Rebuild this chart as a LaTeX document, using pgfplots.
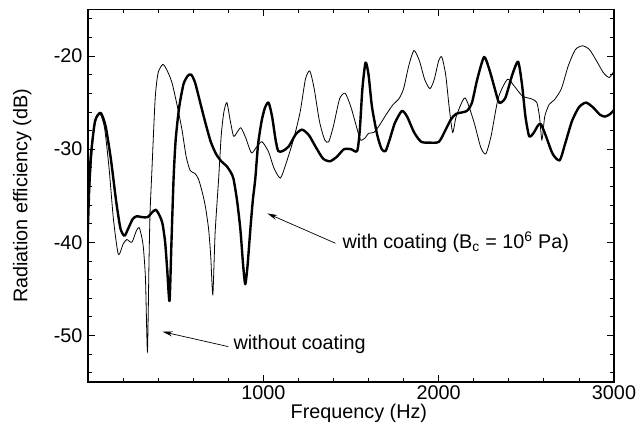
\documentclass[border=0pt]{standalone}
\usepackage{fontspec}
\setmainfont{Liberation Sans}
\usepackage{pgfplots}
\usepackage{pgfplotstable}
\pgfplotsset{compat=1.18}
\usetikzlibrary{arrows.meta}

% Radiation efficiency of the uncoated plate (thin line)
\pgfplotstableread{
f     R
0     -41.0
12    -34.0
30    -28.5
50    -26.6
72    -26.3
95    -27.8
120   -32.0
145   -37.5
173   -41.3
200   -40.2
221   -39.7
250   -40.0
275   -38.8
291   -38.4
305   -39.3
316   -40.6
328   -44.0
339   -51.7
348   -42.0
354   -36.8
364   -32.5
383   -24.6
400   -21.8
427   -20.9
450   -21.5
478   -22.8
505   -25.0
535   -27.8
560   -30.8
583   -32.3
610   -32.6
630   -33.2
650   -34.5
669   -36.1
688   -38.6
700   -41.5
712   -45.6
725   -39.0
745   -33.2
760   -28.5
775   -26.0
792   -25.0
810   -26.8
830   -28.6
850   -28.2
872   -27.7
900   -28.8
932   -30.4
960   -29.8
992   -29.2
1030  -30.3
1060  -32.0
1097  -33.1
1130  -31.5
1173  -28.9
1210  -26.0
1240  -22.5
1265  -21.6
1290  -23.5
1320  -27.0
1350  -29.0
1373  -29.2
1400  -27.5
1435  -24.6
1467  -24.0
1500  -25.5
1530  -27.5
1554  -29.0
1580  -28.8
1600  -28.3
1630  -28.2
1660  -27.5
1700  -26.3
1740  -25.2
1773  -24.6
1800  -23.5
1830  -21.0
1859  -19.4
1890  -20.5
1920  -22.5
1950  -23.5
1975  -22.5
2000  -20.5
2018  -20.1
2040  -22.0
2060  -25.5
2080  -28.2
2100  -26.5
2150  -24.5
2200  -27.0
2240  -29.8
2269  -30.5
2300  -28.5
2340  -24.5
2392  -22.5
2430  -23.2
2478  -24.3
2530  -24.6
2560  -25.0
2575  -26.5
2589  -29.0
2605  -26.5
2630  -25.2
2660  -24.7
2700  -23.5
2740  -21.0
2780  -19.3
2821  -18.9
2860  -19.3
2900  -20.5
2940  -21.8
2973  -22.3
3000  -21.6
}\uncoated

% Radiation efficiency with the coating, B_c = 10^6 Pa (thick line)
\pgfplotstableread{
f     R
0     -36.0
15    -31.0
40    -27.0
72    -26.1
100   -27.5
130   -31.0
160   -35.5
185   -38.5
208   -39.3
230   -38.5
255   -37.5
278   -37.2
310   -37.3
340   -37.3
365   -36.8
387   -36.5
410   -37.2
425   -38.0
440   -40.0
452   -43.0
465   -46.3
476   -40.0
488   -33.2
500   -29.0
520   -25.5
545   -23.0
570   -22.1
589   -22.0
610   -22.8
640   -25.0
670   -27.2
700   -29.2
730   -30.5
760   -31.3
790   -31.8
815   -32.5
830   -33.2
850   -35.5
869   -38.6
885   -42.5
897   -44.5
910   -42.5
926   -38.6
940   -35.5
954   -33.2
970   -29.5
990   -27.0
1010  -25.5
1030  -25.0
1050  -26.5
1070  -29.0
1085  -30.2
1110  -30.2
1145  -29.7
1185  -28.4
1221  -27.9
1260  -28.5
1300  -29.8
1340  -31.0
1380  -31.3
1420  -30.8
1460  -30.0
1500  -30.0
1535  -30.2
1550  -28.0
1565  -23.5
1583  -20.7
1600  -22.0
1620  -25.5
1650  -28.5
1675  -30.0
1697  -30.2
1720  -29.0
1750  -27.2
1790  -25.9
1820  -26.5
1860  -28.2
1900  -29.2
1950  -29.3
2002  -29.2
2040  -27.9
2070  -26.8
2100  -26.2
2160  -25.9
2190  -25.0
2220  -22.5
2259  -20.1
2290  -21.5
2320  -23.5
2345  -25.0
2380  -24.5
2420  -22.0
2453  -20.6
2475  -23.0
2495  -26.5
2516  -28.6
2540  -28.3
2565  -27.5
2583  -27.3
2610  -28.5
2650  -30.5
2690  -31.2
2720  -29.5
2760  -27.0
2800  -25.5
2840  -25.0
2880  -25.5
2920  -26.3
2950  -26.5
2980  -26.2
3000  -25.8
}\coated

\begin{document}
\begin{tikzpicture}[font=\fontsize{19.8}{23}\selectfont]
\path[use as bounding box] (0,0) rectangle (638pt,436pt);
\begin{axis}[
  at={(88pt,54pt)}, anchor=south west,
  scale only axis, width=526pt, height=372.5pt,
  xmin=0, xmax=3000, ymin=-55, ymax=-15,
  xtick={1000,2000,3000}, xticklabels={1000,2000,3000},
  ytick={-50,-40,-30,-20}, yticklabels={-50,-40,-30,-20},
  minor xtick={200,400,...,2800},
  minor ytick={-54,-52,...,-16},
  tick align=inside,
  major tick length=7pt, minor tick length=4pt,
  axis line style={line width=1.3pt},
  every tick/.style={black, line width=0.8pt},
  xlabel={Frequency (Hz)},
  ylabel={Radiation efficiency (dB)},
  xlabel style={at={(axis description cs:0.515,-0.085)}, anchor=center},
  ylabel style={at={(axis description cs:-0.125,0.5)}, anchor=center},
  yticklabel style={xshift=-2pt},
  clip=true,
]
\addplot[black, line width=0.8pt, smooth, tension=0.4] table[x=f, y=R] {\uncoated};
\addplot[black, line width=2.4pt, smooth, tension=0.4, line join=round] table[x=f, y=R] {\coated};

\draw[-{Stealth[length=10pt,width=5pt]}, line width=0.7pt] (axis cs:1411,-40.1) -- (axis cs:1023,-36.9);
\node[anchor=west, inner sep=0pt] at (axis cs:1451,-40.0) {with coating (B\textsubscript{c} = 10\textsuperscript{6} Pa)};
\draw[-{Stealth[length=10pt,width=5pt]}, line width=0.7pt] (axis cs:800,-51.2) -- (axis cs:425,-49.6);
\node[anchor=west, inner sep=0pt] at (axis cs:829,-51.0) {without coating};
\end{axis}
\end{tikzpicture}
\end{document}
